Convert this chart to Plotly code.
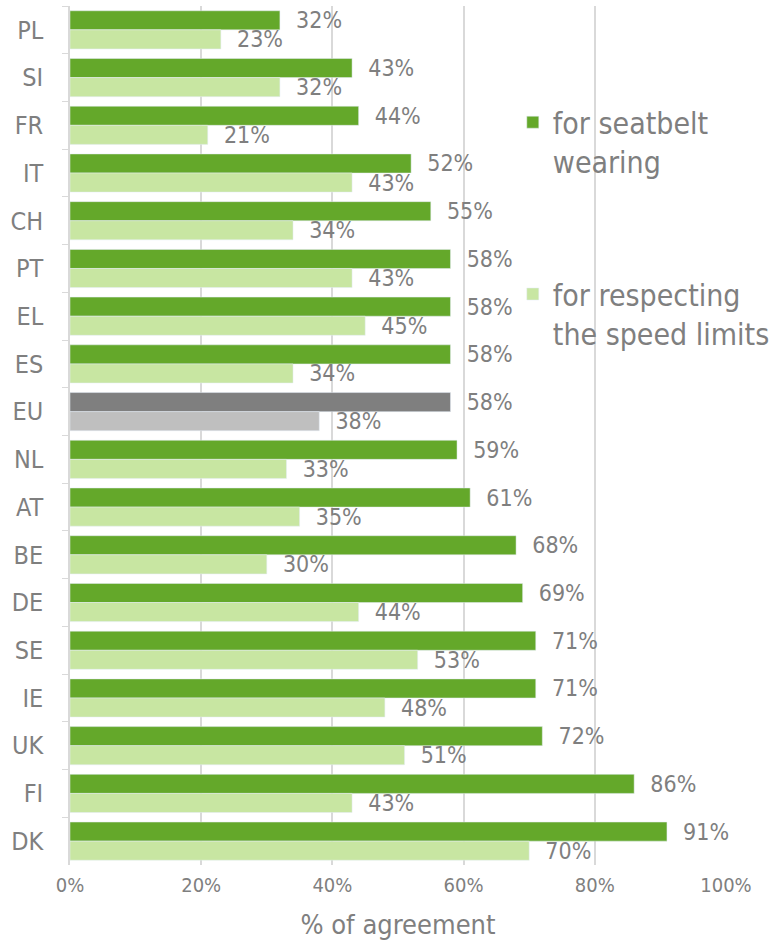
import plotly.graph_objects as go

# countries from top to bottom
countries = ["PL", "SI", "FR", "IT", "CH", "PT", "EL", "ES", "EU",
             "NL", "AT", "BE", "DE", "SE", "IE", "UK", "FI", "DK"]
seatbelt = [32, 43, 44, 52, 55, 58, 58, 58, 58, 59, 61, 68, 69, 71, 71, 72, 86, 91]
speed = [23, 32, 21, 43, 34, 43, 45, 34, 38, 33, 35, 30, 44, 53, 48, 51, 43, 70]

x_ticks = [0, 20, 40, 60, 80, 100]
x_labels = ["0%", "20%", "40%", "60%", "80%", "100%"]

dark = ["#7F7F7F" if c == "EU" else "#64A82A" for c in countries]
light = ["#BFBFBF" if c == "EU" else "#C8E6A2" for c in countries]

FONT = "DejaVu Sans Condensed, DejaVu Sans, sans-serif"
GREY = "#7F7F7F"
pad = "\u00a0\u00a0"

fig = go.Figure()
fig.add_trace(go.Bar(
    y=countries, x=seatbelt, orientation="h", name="for seatbelt<br>wearing",
    marker=dict(color=dark), text=[pad + f"{v}%" for v in seatbelt],
    textposition="outside", constraintext="none", cliponaxis=False,
    textfont=dict(size=23, color=GREY, family=FONT), legend="legend",
    showlegend=True,
))
fig.add_trace(go.Bar(
    y=countries, x=speed, orientation="h", name="for respecting<br>the speed limits",
    marker=dict(color=light), text=[pad + f"{v}%" for v in speed],
    textposition="outside", constraintext="none", cliponaxis=False,
    textfont=dict(size=23, color=GREY, family=FONT), legend="legend2",
    showlegend=True,
))

fig.update_layout(
    width=781, height=940,
    margin=dict(l=70, r=50, t=6, b=75),
    paper_bgcolor="white", plot_bgcolor="white",
    barmode="group", bargap=0.2, bargroupgap=0,
    showlegend=True,
    font=dict(family=FONT, color=GREY),
    legend=dict(x=0.675, y=0.895, xanchor="left", yanchor="top", valign="top",
                bgcolor="rgba(0,0,0,0)", font=dict(size=30, color=GREY)),
    legend2=dict(x=0.675, y=0.695, xanchor="left", yanchor="top", valign="top",
                 bgcolor="rgba(0,0,0,0)", font=dict(size=30, color=GREY)),
)
fig.update_xaxes(
    range=[0, 100], tickvals=x_ticks, ticktext=x_labels, automargin=False,
    showgrid=True, gridcolor="#D9D9D9", gridwidth=1.5, zeroline=False,
    showline=False, tickfont=dict(size=20, color=GREY), ticklabelstandoff=6,
    title=dict(text="% of agreement", font=dict(size=27, color=GREY), standoff=22),
)
fig.update_yaxes(
    autorange="reversed", showline=True, linecolor="#D9D9D9", linewidth=1.5,
    ticks="outside", tickson="boundaries", ticklen=6, tickcolor="#D9D9D9",
    ticklabelstandoff=20, tickfont=dict(size=25, color=GREY), showgrid=False,
    automargin=False,
)

fig.write_html("out.html", config={"displayModeBar": False},
               post_script="document.body.style.margin='0';")
